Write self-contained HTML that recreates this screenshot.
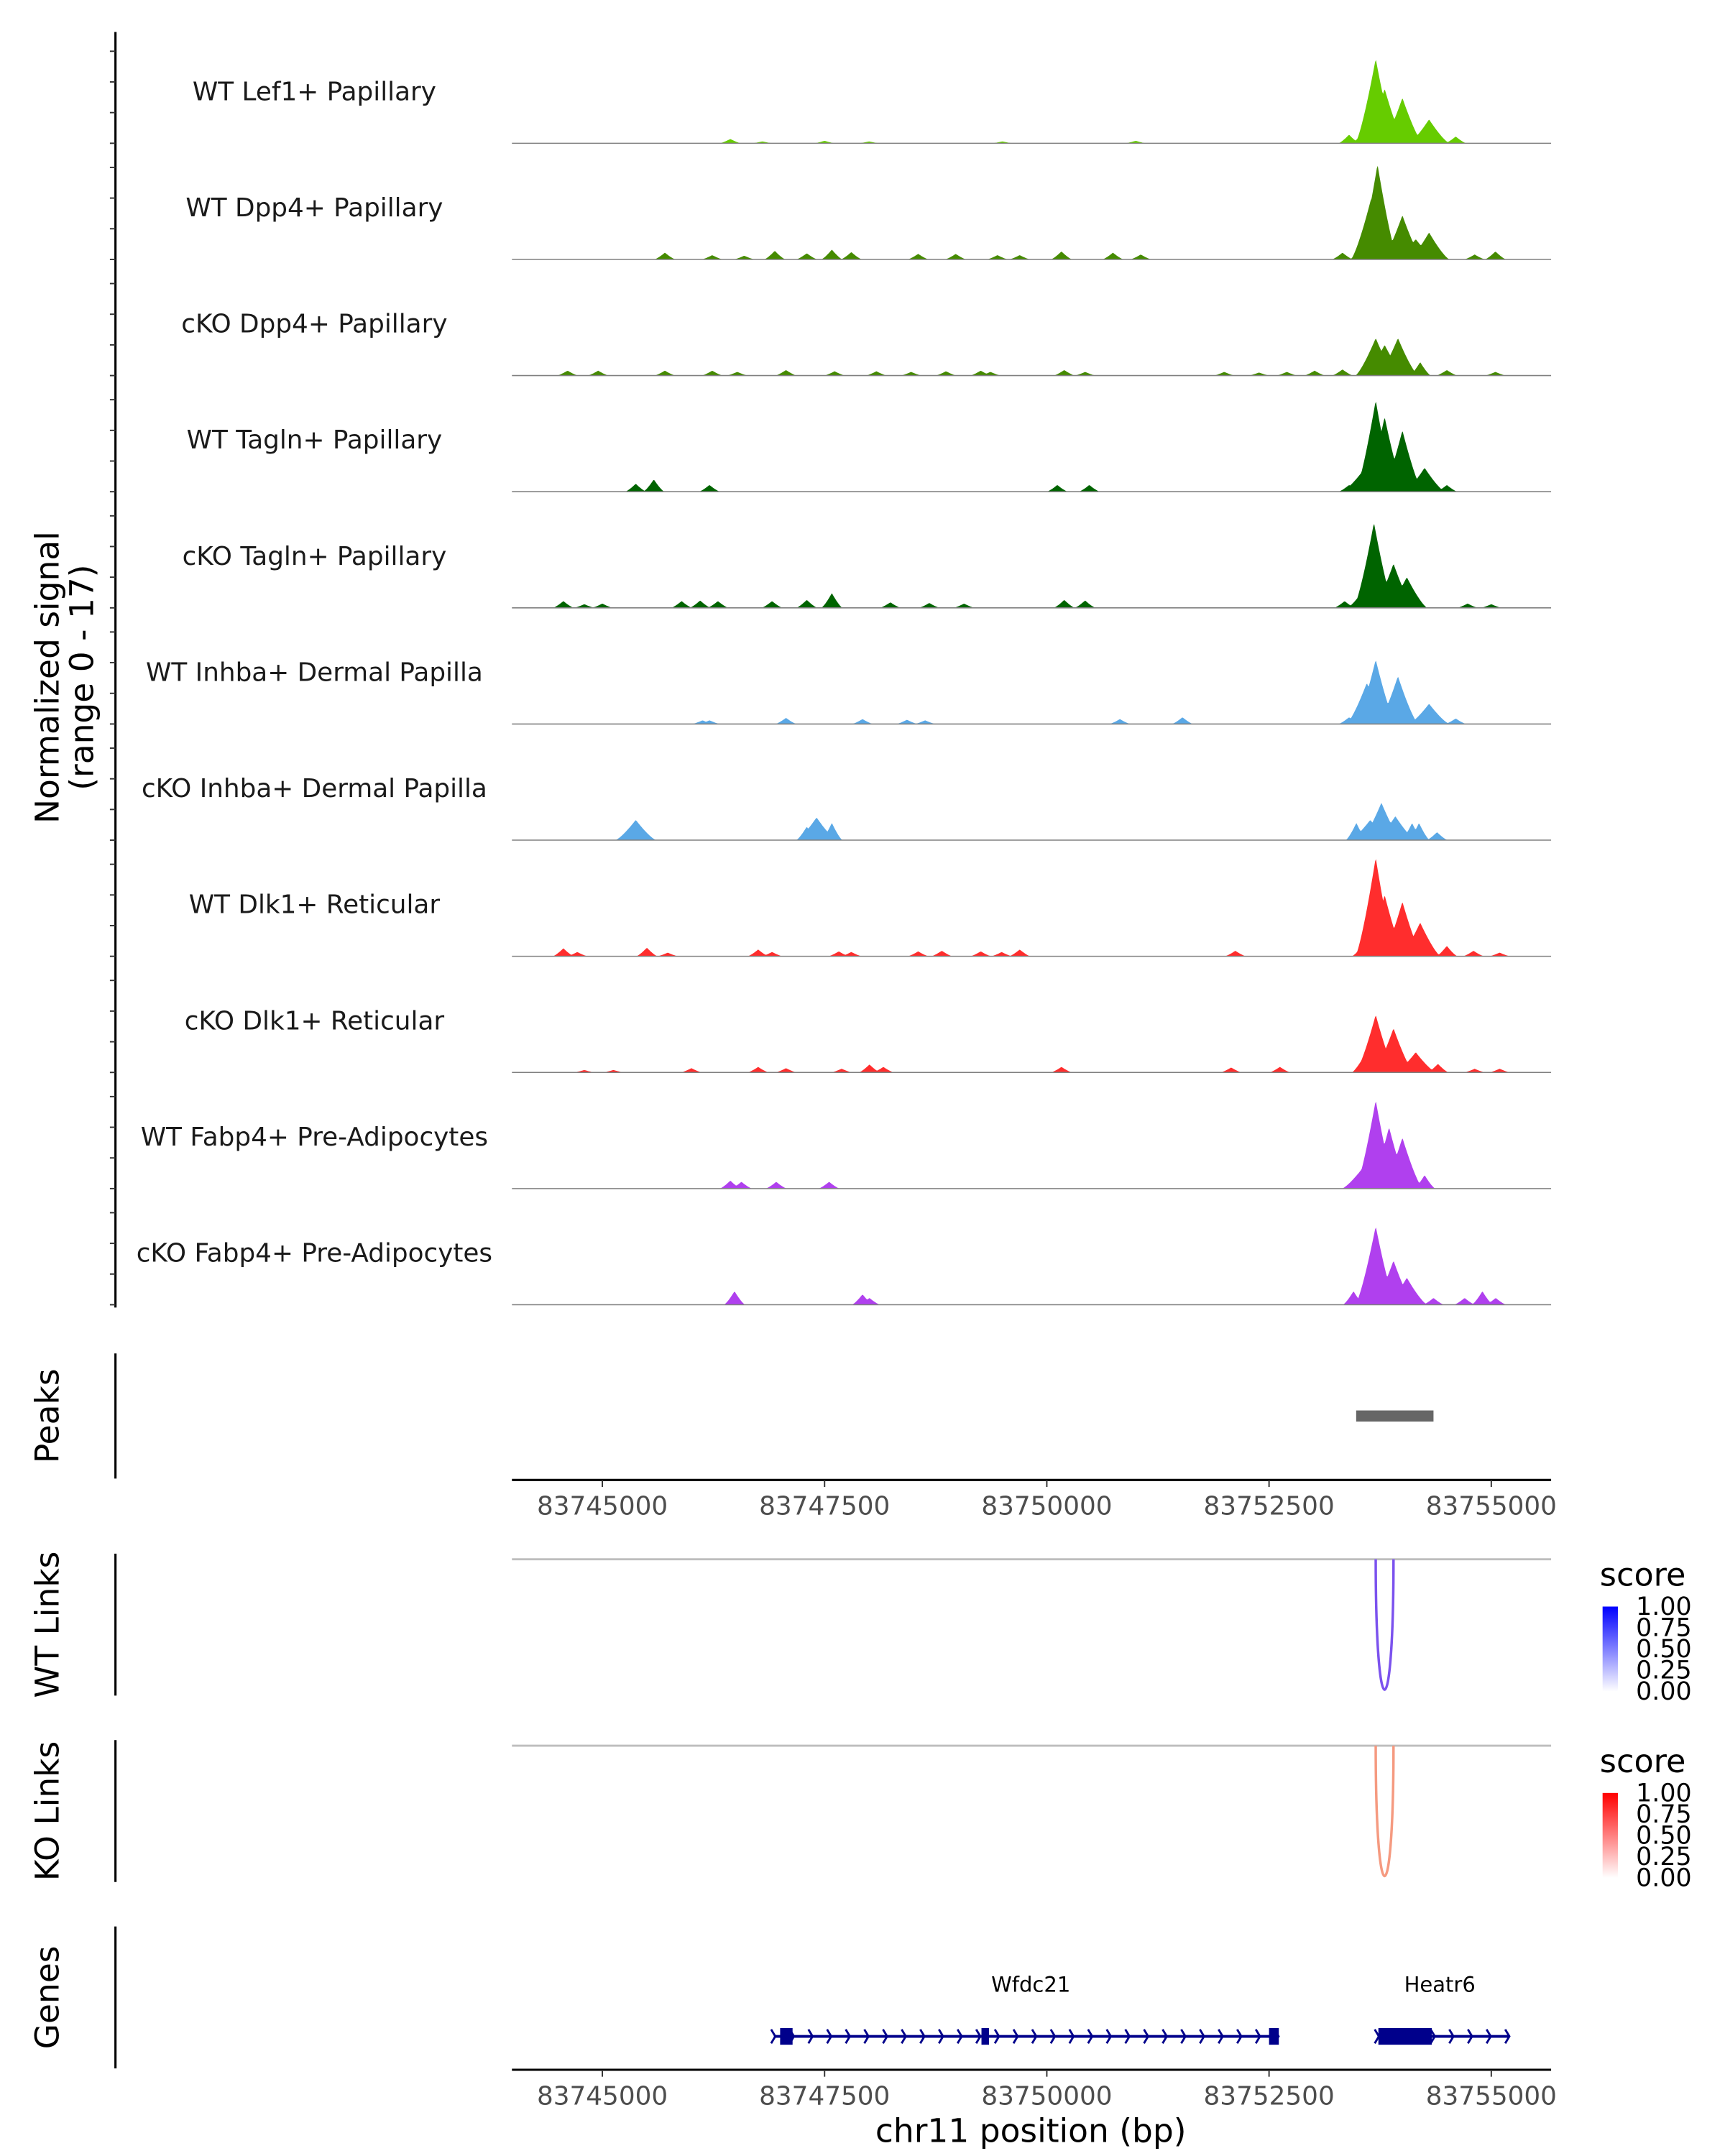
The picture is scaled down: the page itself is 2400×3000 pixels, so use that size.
<!DOCTYPE html>
<html><head><meta charset="utf-8">
<style>
html,body{margin:0;padding:0;background:#fff;}
svg{display:block;}
text{font-family:"DejaVu Sans","Liberation Sans",sans-serif;}
</style></head>
<body>
<svg id="chart" width="2400" height="3000" viewBox="0 0 1240 1550" xmlns="http://www.w3.org/2000/svg">
<g id="tracks"></g>
<g id="rest"></g>
</svg>
<script>
// ---- data ----
const trackNames = ["WT Lef1+ Papillary","WT Dpp4+ Papillary","cKO Dpp4+ Papillary","WT Tagln+ Papillary","cKO Tagln+ Papillary","WT Inhba+ Dermal Papilla","cKO Inhba+ Dermal Papilla","WT Dlk1+ Reticular","cKO Dlk1+ Reticular","WT Fabp4+ Pre-Adipocytes","cKO Fabp4+ Pre-Adipocytes"];
const trackColors = ["#66CC00","#458B00","#458B00","#006400","#006400","#5AA8E6","#5AA8E6","#FF2D2D","#FF2D2D","#B040EE","#B040EE"];
// peak centres (bp) and heights (normalized signal) per track
const pos0 = [83753700,83753800,83754000,83754300,83753400,83753550,83754600,83746440,83746800,83747500,83748000,83749500,83751000];
const val0 = [13.8,8.9,7.4,3.9,1.4,1.7,1.1,0.7,0.3,0.4,0.3,0.3,0.4];
const pos1 = [83753720,83753650,83754000,83754300,83754150,83745704,83746236,83746596,83746940,83747300,83747582,83747801,83748553,83748975,83749445,83749695,83750165,83750744,83751057,83753326,83755047,83754813];
const val1 = [15.5,10,7.2,4.4,3.3,1.1,0.7,0.6,1.4,1,1.6,1.2,0.9,0.9,0.7,0.7,1.3,1.1,0.8,1.1,1.3,0.8];
const pos2 = [83753700,83753950,83753800,83754200,83744609,83744953,83745704,83746236,83746518,83747066,83747613,83748083,83748474,83748866,83749257,83749366,83750196,83750431,83751996,83752387,83752700,83753013,83753326,83754500,83755047];
const val2 = [6.1,6.1,5,2.2,0.8,0.8,0.8,0.8,0.6,0.9,0.7,0.7,0.6,0.7,0.8,0.6,0.9,0.6,0.6,0.5,0.6,0.8,1,0.9,0.6];
const pos3 = [83753700,83753800,83754000,83753550,83754250,83753400,83754500,83745376,83745579,83746205,83750118,83750478];
const val3 = [14.9,12.2,10,3.3,3.9,1.1,1.1,1.3,2,1.1,1.1,1.1];
const pos4 = [83753680,83753900,83754050,83753500,83753350,83744562,83744797,83745000,83745892,83746100,83746300,83746909,83747300,83747582,83748240,83748678,83749069,83750196,83750431,83754734,83755000];
const val4 = [13.9,7.2,5,1.7,1.1,1.1,0.6,0.7,1.1,1.2,1.1,1.1,1.3,2.4,0.9,0.8,0.7,1.3,1.2,0.7,0.6];
const pos5 = [83753700,83753950,83753600,83754300,83753400,83754600,83746127,83746205,83747066,83747927,83748427,83748631,83750822,83751526];
const val5 = [10.5,7.8,6.7,3.3,1.1,0.9,0.6,0.6,1,0.8,0.7,0.6,0.8,1.1];
const pos6 = [83745376,83747300,83747410,83747582,83753482,83753764,83753639,83753921,83754109,83754187,83754390];
const val6 = [3.3,2.2,3.7,2.8,2.8,6.1,3.3,3.9,2.8,2.8,1.3];
const pos7 = [83753700,83753800,83754000,83754200,83753550,83754500,83754800,83744562,83744718,83745501,83745736,83746753,83746909,83747660,83747801,83748553,83748819,83749257,83749492,83749695,83752121,83755094];
const val7 = [16.1,10,8.9,5.5,1.7,1.7,0.9,1.3,0.7,1.4,0.6,1.1,0.7,0.8,0.7,0.8,0.9,0.8,0.7,1.1,0.9,0.6];
const pos8 = [83753700,83753900,83754150,83753550,83754400,83744797,83745125,83746002,83746753,83747066,83747692,83748005,83748161,83750165,83752074,83752622,83754813,83755094];
const val8 = [9.4,7.2,3.3,2.2,1.4,0.4,0.4,0.7,0.9,0.7,0.6,1.3,0.9,0.9,0.8,0.9,0.6,0.6];
const pos9 = [83753700,83753850,83754000,83753550,83754250,83746440,83746565,83746956,83747551];
const val9 = [14.4,10,8.3,3.3,2.2,1.3,1.1,1.1,1.1];
const pos10 = [83753700,83753900,83754050,83753450,83753550,83754350,83754700,83754900,83755050,83746487,83747927,83748005];
const val10 = [12.8,7.2,4.4,2.2,1.7,1.1,1.1,2.2,1.1,2.2,1.7,1.1];
const trackPos = [pos0,pos1,pos2,pos3,pos4,pos5,pos6,pos7,pos8,pos9,pos10];
const trackVal = [val0,val1,val2,val3,val4,val5,val6,val7,val8,val9,val10];
const xTicks = [83745000,83747500,83750000,83752500,83755000];
const yTicksSignal = [0,5,10,15];
const peakStart = [83753480]; const peakEnd = [83754350];
const linkWT = [[83753700,83753900,0.55]];
const linkKO = [[83753700,83753900,0.35]];
const legendTicks = ["1.00","0.75","0.50","0.25","0.00"];
const genesName = ["Wfdc21","Heatr6"];
const genesStart = [83746930,83753720];
const genesEnd = [83752600,83755200];
const exonStart = [83747000,83749265,83752500,83753730];
const exonEnd = [83747140,83749350,83752610,83754330];

// ---- scales ----
const X0=368, X1=1115, D0=83743983, D1=83755673;
const xs = bp => X0 + (bp-D0)*(X1-X0)/(D1-D0);
const unitPx = 4.41;
const baseY = i => 103 + i*83.5;
const NS="http://www.w3.org/2000/svg";
function mk(tag, attrs, parent){const e=document.createElementNS(NS,tag);for(const k in attrs)e.setAttribute(k,attrs[k]);parent.appendChild(e);return e;}
const G=document.getElementById('tracks'), R=document.getElementById('rest');
const TITLE=23.5;

let ax=mk('line',{x1:83,y1:baseY(0)-80,x2:83,y2:baseY(10)+2,stroke:'#000','stroke-width':1.6},G);



for(let i=0;i<11;i++){
  const b=baseY(i);
  yTicksSignal.forEach(t=>{
    const tk=mk('line',{x1:79,x2:83,y1:b-t*unitPx,y2:b-t*unitPx,stroke:'#333','stroke-width':1},G);
    
    
  });
  const ps=trackPos[i], vs=trackVal[i];
  let d='M'+X0+','+b;
  for(let bp=D0; bp<=D1; bp+=10){
    let v=0;
    for(let k=0;k<ps.length;k++){
      const w = vs[k]>3?230:120;
      const dd=Math.abs(bp-ps[k]);
      if(dd<w){const r=dd/w; const s=vs[k]*Math.pow(1-r,1.3); if(s>v)v=s;}
    }
    d+='L'+xs(bp).toFixed(2)+','+(b-v*unitPx).toFixed(2);
  }
  d+='L'+X1+','+b+'Z';
  const p=mk('path',{d:d,fill:trackColors[i],stroke:'none'},G);
  
  
  const bl=mk('line',{x1:X0,x2:X1,y1:b,y2:b,stroke:'#808080','stroke-width':0.8},G);
  
  
  const lt=mk('text',{x:226,y:b-31,'text-anchor':'middle','font-size':18.5,fill:'#1a1a1a'},G);
  lt.textContent=trackNames[i];
  
  
}
let yt=mk('text',{transform:'translate(42,487) rotate(-90)','text-anchor':'middle','font-size':TITLE,fill:'#000'},G);
yt.textContent='Normalized signal';


let yt2=mk('text',{transform:'translate(67,487) rotate(-90)','text-anchor':'middle','font-size':TITLE,fill:'#000'},G);
yt2.textContent='(range 0 - 17)';



function panelAxis(y1,y2,label,name){
  const l=mk('line',{x1:83,x2:83,y1:y1,y2:y2,stroke:'#000','stroke-width':1.6},R);
  
  
  const t=mk('text',{transform:'translate(42,'+((y1+y2)/2)+') rotate(-90)','text-anchor':'middle','font-size':TITLE,fill:'#000'},R);
  t.textContent=label;
  
  
}
function xAxis(y,name){
  const l=mk('line',{x1:X0,x2:X1,y1:y,y2:y,stroke:'#000','stroke-width':1.6},R);
  
  
  xTicks.forEach(t=>{
    const tk=mk('line',{x1:xs(t),x2:xs(t),y1:y,y2:y+5,stroke:'#333','stroke-width':1},R);
    
    
    const tl=mk('text',{x:xs(t),y:y+25,'text-anchor':'middle','font-size':18.5,fill:'#4d4d4d'},R);
    tl.textContent=t;
    
    
  });
}
panelAxis(973,1063,'Peaks','peaks');
peakStart.forEach((s,k)=>{
  const r=mk('rect',{x:xs(s),y:1014,width:xs(peakEnd[k])-xs(s),height:8,fill:'#666'},R);
  
  
});
xAxis(1064,'peaks-x-axis');

function linkPanel(y1,y2,label,name,links,col,gradId,c1){
  panelAxis(y1,y2,label,name);
  const top=y1+4;
  const hl=mk('line',{x1:X0,x2:X1,y1:top,y2:top,stroke:'#bebebe','stroke-width':1.5},R);
  
  
  links.forEach(L=>{
    const a=xs(L[0]), b=xs(L[1]), dep=(y2-4)-top;
    const p=mk('path',{d:'M'+a+','+top+' C'+a+','+(top+dep*1.33)+' '+b+','+(top+dep*1.33)+' '+b+','+top,fill:'none',stroke:col,'stroke-width':1.8},R);
    
    
  });
  const defs=mk('defs',{},R);
  const g=mk('linearGradient',{id:gradId,x1:0,y1:0,x2:0,y2:1},defs);
  mk('stop',{offset:'0','stop-color':c1},g);
  mk('stop',{offset:'1','stop-color':'#ffffff'},g);
  const st=mk('text',{x:1150,y:top+19,'font-size':23,fill:'#000'},R);
  st.textContent='score';
  
  
  const cb=mk('rect',{x:1152,y:top+34,width:11,height:61,fill:'url(#'+gradId+')'},R);
  
  
  legendTicks.forEach((t,k)=>{
    const yy=top+34+k*15.25;
    const tx=mk('text',{x:1176,y:yy+6,'font-size':18,fill:'#000'},R);
    tx.textContent=t;
    
    
  });
}
linkPanel(1117,1219,'WT Links','wt-links',linkWT,'#7B52EE','gw','#0000FF');
linkPanel(1251,1353,'KO Links','ko-links',linkKO,'#F59A80','gr','#FF0000');

panelAxis(1385,1487,'Genes','genes');
const gy=1464;
genesName.forEach((n,k)=>{
  const a=xs(genesStart[k]), b=xs(genesEnd[k]);
  const l=mk('line',{x1:a,x2:b,y1:gy,y2:gy,stroke:'#00008B','stroke-width':2},R);
  
  
  for(let x=a; x<=b; x+=13.4){
    const c=mk('path',{d:'M'+(x-2)+','+(gy-5)+' L'+(x+1)+','+gy+' L'+(x-2)+','+(gy+5),fill:'none',stroke:'#00008B','stroke-width':1.5},R);
    
    
  }
  const t=mk('text',{x:(n==='Wfdc21'?741:1035),y:1432,'text-anchor':'middle','font-size':15,fill:'#000'},R);
  t.textContent=n;
  
  
});
exonStart.forEach((s,k)=>{
  const r=mk('rect',{x:xs(s),y:gy-6,width:Math.max(3,xs(exonEnd[k])-xs(s)),height:12,fill:'#00008B'},R);
  
  
});
xAxis(1488,'genes-x-axis');
const xt=mk('text',{x:741,y:1540,'text-anchor':'middle','font-size':TITLE,fill:'#000'},R);
xt.textContent='chr11 position (bp)';


</script>
</body></html>
